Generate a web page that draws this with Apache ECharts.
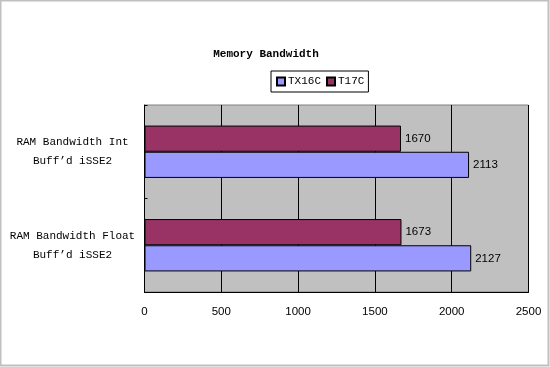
<!DOCTYPE html>
<html><head><meta charset="utf-8">
<script src="https://cdn.jsdelivr.net/npm/echarts@6/dist/echarts.min.js"></script>
<style>html,body{margin:0;padding:0;background:#fff}#c{width:550px;height:367px}</style>
</head><body><div id="c"></div>
<script>
var categories = ['RAM Bandwidth Int\nBuff’d iSSE2', 'RAM Bandwidth Float\nBuff’d iSSE2'];
var seriesNames = ['TX16C', 'T17C'];
var tx16c = [2113, 2127];
var t17c = [1670, 1673];
var xTicks = [0, 500, 1000, 1500, 2000, 2500];
var colors = ['#9999ff', '#993366'];
var chart = echarts.init(document.getElementById('c'));
var mono = 'Liberation Mono';
var sans = 'Liberation Sans';
chart.setOption({
  animation: false,
  title: {text: 'Memory Bandwidth', left: 261, top: 44, textAlign: 'center',
    textStyle: {fontFamily: mono, fontSize: 11, fontWeight: 'bold', color: '#000'}},
  legend: {data: seriesNames, left: 271, top: 71, orient: 'horizontal',
    borderColor: '#000', borderWidth: 1, padding: [5, 4, 5, 5], itemWidth: 8, itemHeight: 8, itemGap: 5,
    icon: 'rect',
    textStyle: {fontFamily: mono, fontSize: 11, color: '#000', padding: [0, 0, 0, -2]}},
  graphic: [{type: 'rect', shape: {x: 0.5, y: 0.5, width: 548, height: 365}, style: {fill: 'none', stroke: '#c0c0c0', lineWidth: 2}, silent: true}],
  grid: {left: 144.5, right: 21.5, top: 105, bottom: 75, show: true, backgroundColor: '#c0c0c0', borderColor: '#808080', borderWidth: 1},
  xAxis: {type: 'value', min: xTicks[0], max: xTicks[xTicks.length - 1], interval: 500,
    axisLine: {show: true, lineStyle: {color: '#000'}}, axisTick: {show: false},
    splitLine: {show: true, lineStyle: {color: '#000', width: 1}},
    axisLabel: {margin: 14, fontFamily: sans, fontSize: 11.5, color: '#000', formatter: function (v) { return String(v); }}},
  yAxis: {type: 'category', data: categories, inverse: true,
    axisLine: {show: true, lineStyle: {color: '#000'}},
    axisTick: {show: true, inside: true, length: 3, lineStyle: {color: '#000'}},
    axisLabel: {margin: 72, align: 'center', fontFamily: mono, fontSize: 11, color: '#000', lineHeight: 19}},
  series: [
    {name: seriesNames[1], type: 'bar', data: t17c, barGap: 0, barCategoryGap: '44%',
      itemStyle: {color: colors[1], borderColor: '#000', borderWidth: 1},
      label: {show: true, position: 'right', distance: 4, fontFamily: sans, fontSize: 11.5, color: '#000'}},
    {name: seriesNames[0], type: 'bar', data: tx16c, barGap: 0, barCategoryGap: '44%',
      itemStyle: {color: colors[0], borderColor: '#000', borderWidth: 1},
      label: {show: true, position: 'right', distance: 4, fontFamily: sans, fontSize: 11.5, color: '#000'}}
  ]
});
</script></body></html>
